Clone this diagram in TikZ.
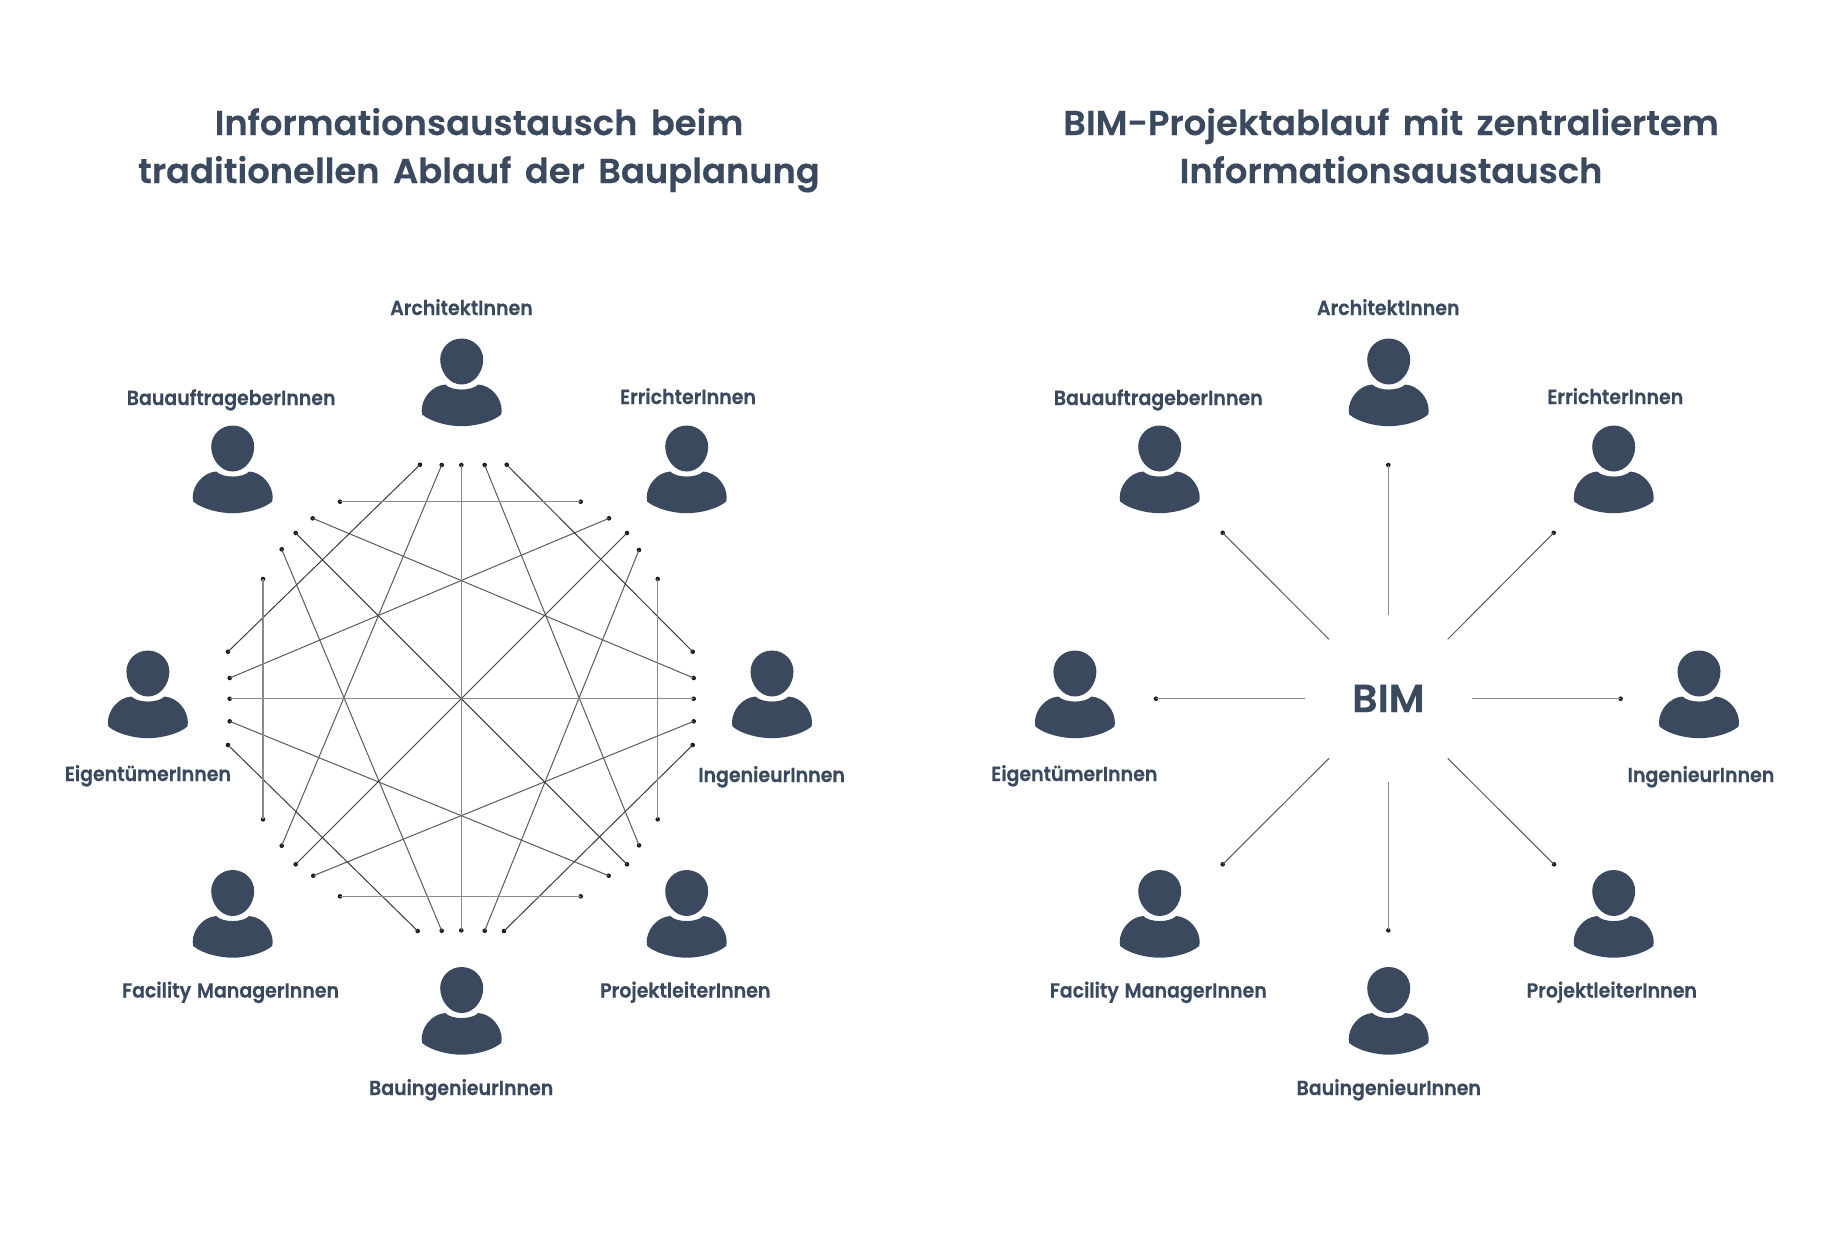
\documentclass[tikz,border=0pt]{standalone}
\usepackage{fontspec}
\setmainfont{Poppins}
\newfontfamily\labfont[FakeStretch=0.93,WordSpace=1.3,FakeBold=0.35]{Poppins SemiBold}
\newfontfamily\ttlfont[FakeStretch=1.02,WordSpace=1.6,FakeBold=0.3]{Poppins SemiBold}
\definecolor{ink}{HTML}{3A495E}
\definecolor{wire}{HTML}{5A5A5A}
\definecolor{wirediag}{HTML}{3C3C3C}
\definecolor{wireaxis}{HTML}{8A8A8A}
\definecolor{dotc}{HTML}{1C1C1C}
\tikzset{
  px/.style={x=0.5pt,y=-0.5pt},
  dotn/.style={circle,fill=dotc,draw=none,inner sep=0pt,minimum size=2.3pt},
  wirel/.style={draw=wire,line width=0.5pt},
  wired/.style={draw=wirediag,line width=0.5pt},
  wirea/.style={draw=wireaxis,line width=0.65pt},
  lab/.style={anchor=base,text=ink,inner sep=0pt,font=\fontsize{10.2pt}{12pt}\labfont},
  ttl/.style={anchor=base,text=ink,inner sep=0pt,font=\fontsize{17.3pt}{21pt}\ttlfont},
  person/.pic={
    \fill[ink] (0,0) .. controls (12,0) and (21.5,9.5) .. (21.5,21) .. controls (21.5,34) and (12,46) .. (0,46)
      .. controls (-12,46) and (-21.5,34) .. (-21.5,21) .. controls (-21.5,9.5) and (-12,0) .. (0,0) -- cycle;
    \fill[ink] (-16.5,46) .. controls (-10,52.7) and (10,52.7) .. (16.5,46)
      .. controls (30,47) and (40,60) .. (40,72) -- (39.5,76) .. controls (30,84) and (12,87.7) .. (0,87.7)
      .. controls (-12,87.7) and (-30,84) .. (-39.5,76) -- (-40,72) .. controls (-40,60) and (-30,47) .. (-16.5,46) -- cycle;
  }
}
\begin{document}
\begin{tikzpicture}[px]
\useasboundingbox (0,0) rectangle (1840,1250);
% titles
\node[ttl] (t1a) at (479,135) {Informationsaustausch beim};
\node[ttl] (t1b) at (479,183) {traditionellen Ablauf der Bauplanung};
\node[ttl] (t2a) at (1391,135) {BIM-Projektablauf mit zentraliertem};
\node[ttl] (t2b) at (1391,183) {Informationsaustausch};
% persons
\foreach \nm/\x/\y in {a/461.7/338.5,b/232.7/425.5,c/686.7/425.5,d/147.9/650.5,e/772/650.5,f/232.7/870,g/686.7/870,h/461.7/967,
  A/1388.7/338.5,B/1159.7/425.5,C/1613.7/425.5,D/1074.9/650.5,E/1699/650.5,F/1159.7/870,G/1613.7/870,H/1388.7/967}
  \pic (p\nm) at (\x,\y) {person};
% labels
\node[lab] (la) at (461.5,315) {ArchitektInnen};
\node[lab] (lb) at (231.2,405) {BauauftrageberInnen};
\node[lab] (lc) at (688,404) {ErrichterInnen};
\node[lab] (ld) at (147.9,781) {EigentümerInnen};
\node[lab] (le) at (771.6,782) {IngenieurInnen};
\node[lab] (lf) at (230.6,997.5) {Facility ManagerInnen};
\node[lab] (lg) at (685.3,997.5) {ProjektleiterInnen};
\node[lab] (lh) at (461.2,1095) {BauingenieurInnen};
\node[lab] (lA) at (1388.3,315) {ArchitektInnen};
\node[lab] (lB) at (1158.3,405) {BauauftrageberInnen};
\node[lab] (lC) at (1615.3,404) {ErrichterInnen};
\node[lab] (lD) at (1074.3,781) {EigentümerInnen};
\node[lab] (lE) at (1701,782) {IngenieurInnen};
\node[lab] (lF) at (1158.3,997.5) {Facility ManagerInnen};
\node[lab] (lG) at (1611.8,997.5) {ProjektleiterInnen};
\node[lab] (lH) at (1388.8,1095) {BauingenieurInnen};
% left network dots
\foreach \nm/\x/\y in {
 t1/420/464.7,t2/441.7/465,t3/461.3/465,t4/484.7/465,t5/506.7/464.7,
 hta/340/501.7,htb/580.7/501.7,
 u1/312.7/518.3,u2/609/518.3,v1/295.7/533,v2/627/533,w1/281.7/549.3,w2/639/550,
 s1/263/579,s2/657.7/579,
 l1/228/651.7,l2/229.7/678,l3/229.7/698.7,l4/229.7/721.3,l5/228/745,
 r1/692.7/651.7,r2/693.7/678,r3/693.7/698.7,r4/693.7/721.3,r5/692.7/745,
 n1/263/819.3,n2/657.7/819.3,o1/281.7/845.7,o2/639/845.3,
 q1/295.7/864.3,q2/627/864.3,m1/313.3/875.7,m2/608.7/875.7,
 hba/340/896.3,hbb/580.7/896.3,
 b1/417.7/931,b2/441.7/930.7,b3/461.3/930.3,b4/484.7/930.7,b5/504/931}
  \node[dotn] (\nm) at (\x,\y) {};
\foreach \p/\q in {t2/o1,t4/o2,u1/r2,u2/l2,w1/b2,w2/b4,l4/m2,r4/m1}
  \draw[wirel] (\p.center) -- (\q.center);
\foreach \p/\q in {t1/l1,t5/r1,v1/q2,v2/q1,l5/b1,r5/b5}
  \draw[wired] (\p.center) -- (\q.center);
\foreach \p/\q in {t3/b3,hta/htb,s1/n1,s2/n2,l3/r3,hba/hbb}
  \draw[wirea] (\p.center) -- (\q.center);
% right network
\node[anchor=base,text=ink,inner sep=0pt,font=\fontsize{19.5pt}{23pt}\ttlfont] (bim) at (1388.3,712) {BIM};
\foreach \nm/\x/\y/\ex/\ey/\st in {
  Rt/1388.3/465/1388.3/614.7/wirea,
  Rb/1388.3/930.3/1388.3/782/wirea,
  Rl/1156/698.7/1305/698.7/wirea,
  Rr/1620.6/698.7/1472/698.7/wirea,
  Ra/1222.7/532.8/1329/639.3/wirel,
  Rc/1553.7/532.8/1447.7/639.3/wirel,
  Rf/1222.7/864.3/1329/758.3/wirel,
  Rg/1554/864.3/1447.7/758.3/wirel}{
  \node[dotn] (\nm) at (\x,\y) {};
  \coordinate (\nm e) at (\ex,\ey);
  \draw[\st] (\nm.center) -- (\nm e);
}
\end{tikzpicture}
\end{document}
